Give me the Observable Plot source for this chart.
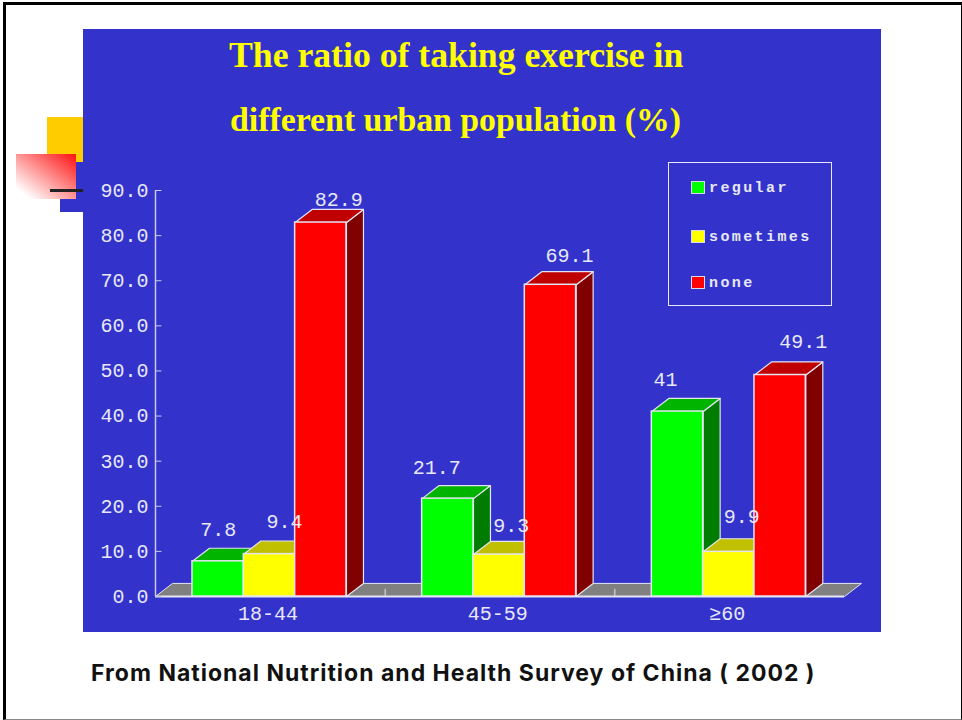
<!DOCTYPE html>
<html>
<head>
<meta charset="utf-8">
<script src="https://cdn.jsdelivr.net/npm/d3@7"></script>
<script src="https://cdn.jsdelivr.net/npm/@observablehq/plot@0.6"></script>
<style>
  html, body { margin: 0; padding: 0; background: #fff; }
  #slide { position: relative; width: 962px; height: 720px; overflow: hidden; background: #fff; }
  #slide > * { position: absolute; }
  .frame { left: 3px; top: 2px; right: 0; bottom: 0; border-style: solid; border-color: #000; border-width: 3px 1px 1px 3px; border-bottom-color: #888; }
  .yellow { left: 47px; top: 117px; width: 36px; height: 45px; background: #ffcc00; }
  .navy { left: 60px; top: 162px; width: 23px; height: 50px; background: #3333cc; }
  .fade { left: 16px; top: 154px; width: 60px; height: 45px; background: linear-gradient(to top right, #ffffff 12%, #ff1010 100%); }
  .panel { left: 83px; top: 29px; width: 798px; height: 603px; background: #3333cc; }
  .dash { left: 50px; top: 189px; width: 33px; height: 3px; background: #222; }
  .title { color: #ffff00; font-family: "Liberation Serif", serif; font-weight: bold; white-space: nowrap; line-height: 1; }
  .caption { left: 91px; top: 660px; color: #111; font: bold 23px Inter, sans-serif; letter-spacing: 1px; white-space: nowrap; line-height: 1.2; }
  svg { left: 0; top: 0; }
  .legendBox { left: 668px; top: 162px; width: 162px; height: 142px; border: 1px solid #e8e8ff; }
  .swatch { width: 12px; height: 11px; border: 1px solid #d8d8e8; }
  .legendText { left: 709px; color: #e8e8f4; font: bold 15px "Liberation Mono", monospace; letter-spacing: 2.4px; white-space: nowrap; line-height: 1; }
</style>
</head>
<body>
<div id="slide">
  <div class="frame"></div>
  <div class="yellow"></div>
  <div class="navy"></div>
  <div class="fade"></div>
  <div class="panel"></div>
  <div class="dash"></div>
</div>
<script>
const titleLines = ["The ratio of taking exercise in", "different urban population (%)"];
const caption = "From National Nutrition and Health Survey of China ( 2002 )";
const groups = ["18-44", "45-59", "≥60"];
const seriesNames = ["regular", "sometimes", "none"];
const regular = [7.8, 21.7, 41];
const sometimes = [9.4, 9.3, 9.9];
const none = [82.9, 69.1, 49.1];
const seriesValues = [regular, sometimes, none];
const valueLabels = [["7.8", "21.7", "41"], ["9.4", "9.3", "9.9"], ["82.9", "69.1", "49.1"]];
const yTicks = [0, 10, 20, 30, 40, 50, 60, 70, 80, 90];

// Styling and layout, kept apart from the data
const frontColors = ["#00ff00", "#ffff00", "#ff0000"];
const topColors = ["#00b400", "#c0c000", "#c00000"];
const sideColors = ["#007c00", "#a0a000", "#800000"];
const edge = "#e4e4f2";
const ink = "#e8e8fa";
const mono = "'Liberation Mono', monospace";
const barW = 0.2235, pad = 0.161;        // in category units
const depthX = 0.074, depthY = 2.9;      // oblique offset, in x and y scale units
// hand-placed label offsets in px, per series and group
const labelDx = [[0, -11, -12], [15, 12, 13], [18, 19, 23]];
const labelDy = [[-19, -18, -19], [-19, -16, -22], [-10, -16, -20]];

const barX = (s, g) => g + pad + s * barW;
const poly = (pts) => pts.map(([x, y]) => ({x, y}));

const marks = [];
// floor
const floor = poly([[0, 0], [3, 0], [3 + depthX, depthY], [depthX, depthY], [0, 0]]);
marks.push(Plot.line(floor, {x: "x", y: "y", fill: "#808080", stroke: edge, strokeWidth: 1}));
// axis lines and ticks
marks.push(Plot.ruleY([0], {x1: 0, x2: 3, stroke: edge, strokeWidth: 2}));
marks.push(Plot.ruleX([0], {y1: 0, y2: 90, stroke: "#c8c8ec", strokeWidth: 1.5}));
marks.push(Plot.ruleY(yTicks, {y: d => d, x1: 0, x2: 0.028, stroke: "#c8c8ec", strokeWidth: 1}));
marks.push(Plot.ruleX([1, 2], {y1: 0, y2: depthY * 0.55, stroke: edge, strokeWidth: 1}));
// bars, back to front, series by series
seriesValues.forEach((vals, s) => {
  const tops = [], sides = [];
  vals.forEach((v, g) => {
    const x0 = barX(s, g), x1 = x0 + barW;
    tops.push(...poly([[x0, v], [x1, v], [x1 + depthX, v + depthY], [x0 + depthX, v + depthY], [x0, v]]).map(p => ({...p, g})));
    sides.push(...poly([[x1, 0], [x1, v], [x1 + depthX, v + depthY], [x1 + depthX, depthY], [x1, 0]]).map(p => ({...p, g})));
  });
  marks.push(Plot.line(sides, {x: "x", y: "y", z: "g", fill: sideColors[s], stroke: edge, strokeWidth: 1.2}));
  marks.push(Plot.line(tops, {x: "x", y: "y", z: "g", fill: topColors[s], stroke: edge, strokeWidth: 1.2}));
  marks.push(Plot.rect(vals, {
    x1: (d, g) => barX(s, g), x2: (d, g) => barX(s, g) + barW, y1: 0, y2: d => d,
    fill: frontColors[s], stroke: edge, strokeWidth: 1.5
  }));
});
// y axis labels
marks.push(Plot.axisY(yTicks, {
  anchor: "left", x: 0, tickSize: 0, tickPadding: 7, tickFormat: d => d.toFixed(1), label: null,
  fontFamily: mono, fontSize: 20, fill: ink, stroke: "none"
}));
// category labels
marks.push(Plot.text(groups, {
  x: (d, i) => i + 0.49, y: 0, text: d => d, dy: 17,
  fontFamily: mono, fontSize: 20, fill: ink
}));
// value labels
seriesValues.forEach((vals, s) => {
  vals.forEach((v, g) => {
    marks.push(Plot.text([v], {
      x: () => barX(s, g) + barW / 2,
      y: d => d + depthY,
      text: () => valueLabels[s][g],
      dx: labelDx[s][g],
      dy: labelDy[s][g],
      fontFamily: mono, fontSize: 20, fill: ink
    }));
  });
});

const chart = Plot.plot({
  width: 962, height: 720,
  margin: 0,
  style: {background: "transparent", overflow: "visible"},
  x: {domain: [0, 3], range: [155, 844], axis: null},
  y: {domain: [0, 90], range: [596, 190], axis: null},
  marks
});

const slide = document.getElementById("slide");
slide.appendChild(chart);

const add = (cls, text, style) => {
  const el = document.createElement("div");
  el.className = cls;
  if (text) el.textContent = text;
  Object.assign(el.style, style);
  slide.appendChild(el);
};
add("title", titleLines[0], {left: "229px", top: "38px", fontSize: "35.7px"});
add("title", titleLines[1], {left: "230px", top: "103px", fontSize: "33.8px"});
add("caption", caption, {});
add("legendBox", "", {});
const legendTops = [181, 230, 276];
seriesNames.forEach((name, i) => {
  add("swatch", "", {left: "691px", top: legendTops[i] + "px", background: frontColors[i]});
  add("legendText", name, {top: legendTops[i] + "px"});
});
</script>
</body>
</html>
